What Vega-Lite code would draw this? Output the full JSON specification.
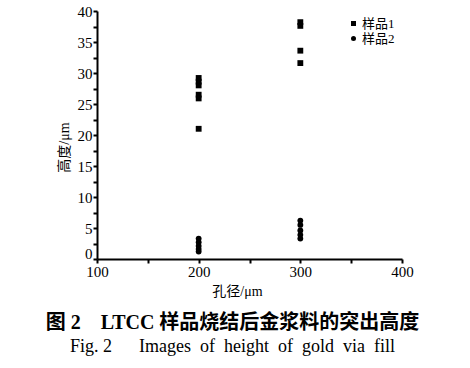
{
  "$schema": "https://vega.github.io/schema/vega-lite/v6.json",
  "autosize": {"type": "none"},
  "width": 305,
  "height": 248,
  "padding": {"left": 97, "top": 11, "right": 68, "bottom": 109},
  "background": "white",
  "config": {
    "view": {"stroke": null},
    "font": "Liberation Serif, Noto Sans CJK SC"
  },
  "title": {
    "text": "图 2\u2003LTCC 样品烧结后金浆料的突出高度",
    "subtitle": "Fig. 2\u2003\u00a0 Images\u00a0 of\u00a0 height\u00a0 of\u00a0 gold\u00a0 via\u00a0 fill",
    "orient": "bottom",
    "anchor": "middle",
    "dx": -17,
    "font": "Liberation Serif, Noto Sans CJK SC",
    "fontSize": 20,
    "fontWeight": "bold",
    "color": "black",
    "subtitleFont": "Liberation Serif",
    "subtitleFontSize": 18,
    "subtitleColor": "black",
    "subtitlePadding": 5,
    "offset": 15
  },
  "data": {
    "values": [
      {"d": 200, "h": 29.2, "s": "样品1"},
      {"d": 200, "h": 28.6, "s": "样品1"},
      {"d": 200, "h": 28.0, "s": "样品1"},
      {"d": 200, "h": 26.5, "s": "样品1"},
      {"d": 200, "h": 25.9, "s": "样品1"},
      {"d": 200, "h": 21.0, "s": "样品1"},
      {"d": 300, "h": 38.2, "s": "样品1"},
      {"d": 300, "h": 37.6, "s": "样品1"},
      {"d": 300, "h": 33.6, "s": "样品1"},
      {"d": 300, "h": 31.6, "s": "样品1"},
      {"d": 200, "h": 3.3, "s": "样品2"},
      {"d": 200, "h": 2.7, "s": "样品2"},
      {"d": 200, "h": 2.1, "s": "样品2"},
      {"d": 200, "h": 1.6, "s": "样品2"},
      {"d": 200, "h": 1.2, "s": "样品2"},
      {"d": 300, "h": 6.2, "s": "样品2"},
      {"d": 300, "h": 5.5, "s": "样品2"},
      {"d": 300, "h": 4.6, "s": "样品2"},
      {"d": 300, "h": 3.9, "s": "样品2"},
      {"d": 300, "h": 3.3, "s": "样品2"}
    ]
  },
  "mark": {"type": "point", "filled": true, "opacity": 1, "size": 34},
  "encoding": {
    "x": {
      "field": "d", "type": "quantitative",
      "scale": {"domain": [100, 400], "nice": false, "zero": false},
      "axis": {
        "title": "孔径/μm", "titleFont": "Liberation Serif, Noto Sans CJK SC", "titleFontSize": 14, "titleFontWeight": "normal", "titleColor": "black", "titlePadding": 5, "titleX": 140,
        "values": [100, 150, 200, 250, 300, 350, 400],
        "labelExpr": "datum.value % 100 == 0 ? datum.label : ''",
        "labelFontSize": 15, "labelColor": "black", "labelFont": "Liberation Serif",
        "domainColor": "black", "domainWidth": 2, "tickColor": "black", "tickWidth": 2, "tickSize": 4,
        "grid": false, "labelPadding": 1, "labelFlush": false, "labelOverlap": false
      }
    },
    "y": {
      "field": "h", "type": "quantitative",
      "scale": {"domain": [0, 40], "nice": false},
      "axis": {
        "title": "高度/μm", "titleFont": "Liberation Serif, Noto Sans CJK SC", "titleFontSize": 14, "titleFontWeight": "normal", "titleColor": "black", "titlePadding": 6, "titleY": 136,
        "values": [0, 2.5, 5, 7.5, 10, 12.5, 15, 17.5, 20, 22.5, 25, 27.5, 30, 32.5, 35, 37.5, 40],
        "labelExpr": "datum.value % 5 == 0 ? datum.label : ''",
        "labelOffset": {"condition": {"test": "datum.value == 0", "value": -6}, "value": 0},
        "labelFontSize": 15, "labelColor": "black", "labelFont": "Liberation Serif",
        "domainColor": "black", "domainWidth": 2, "tickColor": "black", "tickWidth": 2, "tickSize": 4,
        "grid": false, "labelPadding": 1, "labelFlush": false, "labelOverlap": false
      }
    },
    "shape": {
      "field": "s", "type": "nominal",
      "scale": {"domain": ["样品1", "样品2"], "range": ["square", "circle"]},
      "legend": {
        "title": null, "orient": "none", "legendX": 250, "legendY": 6,
        "labelFont": "Liberation Serif, Noto Sans CJK SC", "labelFontSize": 13, "labelColor": "black",
        "symbolFillColor": "black", "symbolStrokeColor": "black", "symbolSize": 25, "symbolOpacity": 1,
        "rowPadding": 1, "labelOffset": 2
      }
    },
    "color": {"value": "black"}
  }
}
